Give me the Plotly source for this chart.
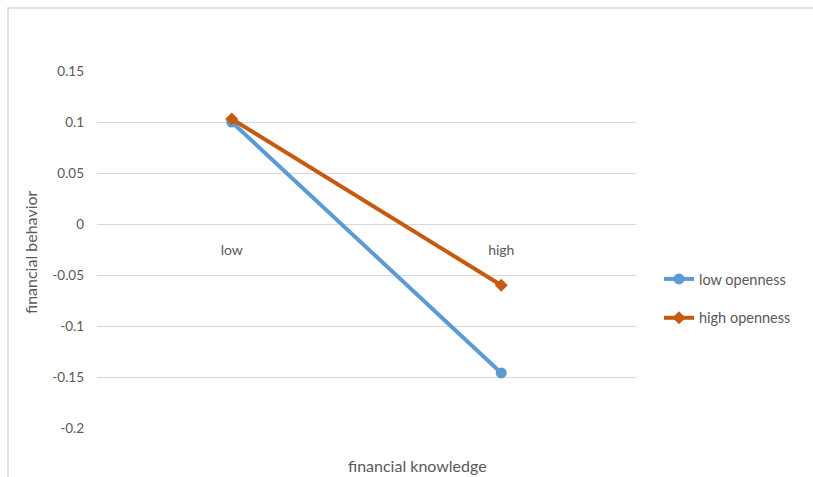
import plotly.graph_objects as go

categories = ["low", "high"]
low_openness = [0.100, -0.146]
high_openness = [0.103, -0.060]
y_ticks = [0.15, 0.1, 0.05, 0, -0.05, -0.1, -0.15, -0.2]
y_tick_labels = ["0.15", "0.1", "0.05", "0", "-0.05", "-0.1", "-0.15", "-0.2"]

FONT = "Lato"
GRAY = "#595959"
GRID = "#D9D9D9"

fig = go.Figure()
fig.add_trace(go.Scatter(
    x=categories, y=low_openness, name="low openness", mode="lines+markers",
    line=dict(color="#5B9BD5", width=4),
    marker=dict(symbol="circle", size=11, color="#5B9BD5"),
    legendgroup="a",
))
fig.add_trace(go.Scatter(
    x=categories, y=high_openness, name="high openness", mode="lines+markers",
    line=dict(color="#C55A11", width=4),
    marker=dict(symbol="diamond", size=10, color="#C55A11"),
    legendgroup="b",
))

L, R, T, B = 97, 636, 71, 428
W, H = 813, 477
pw, ph = R - L, B - T

def px(x):
    return (x - L) / pw

def py(y):
    return (B - y) / ph

fig.update_layout(
    width=W, height=H,
    margin=dict(l=L, r=W - R, t=T, b=H - B, pad=0),
    paper_bgcolor="white", plot_bgcolor="white",
    font=dict(family=FONT, size=13, color=GRAY),
    showlegend=True,
    legend=dict(x=px(659), y=py(263), xanchor="left", yanchor="top",
                traceorder="grouped", tracegroupgap=17,
                font=dict(family=FONT, size=14.5, color=GRAY),
                bgcolor="rgba(0,0,0,0)"),
    xaxis=dict(
        type="category", range=[-0.5, 1.5],
        showgrid=False, zeroline=False, showline=False,
        anchor="free", position=(0 - (-0.2)) / 0.35,
        ticks="", ticklabelstandoff=16,
        tickfont=dict(family=FONT, size=14, color=GRAY),
    ),
    yaxis=dict(
        range=[-0.2, 0.15], tickvals=y_ticks, ticktext=y_tick_labels,
        showgrid=True, gridcolor=GRID, gridwidth=1,
        zeroline=True, zerolinecolor=GRID, zerolinewidth=1,
        showline=False, ticks="", ticklabelstandoff=12,
        tickfont=dict(family=FONT, size=13.5, color=GRAY),
    ),
    shapes=[dict(
        type="path", xref="paper", yref="paper",
        path=f"M {px(8)} {py(477)} L {px(8)} {py(8)} L {px(813)} {py(8)}",
        line=dict(color=GRID, width=1.5),
    )],
    annotations=[
        dict(text="financial knowledge", xref="paper", yref="paper",
             x=px(418), y=py(465), xanchor="center", yanchor="middle",
             showarrow=False,
             font=dict(family=FONT, size=16, color=GRAY)),
        dict(text="financial behavior", xref="paper", yref="paper",
             x=px(30), y=py(252), xanchor="center", yanchor="middle",
             showarrow=False, textangle=-90,
             font=dict(family=FONT, size=16, color=GRAY)),
    ],
)

fig.write_html("out.html")
